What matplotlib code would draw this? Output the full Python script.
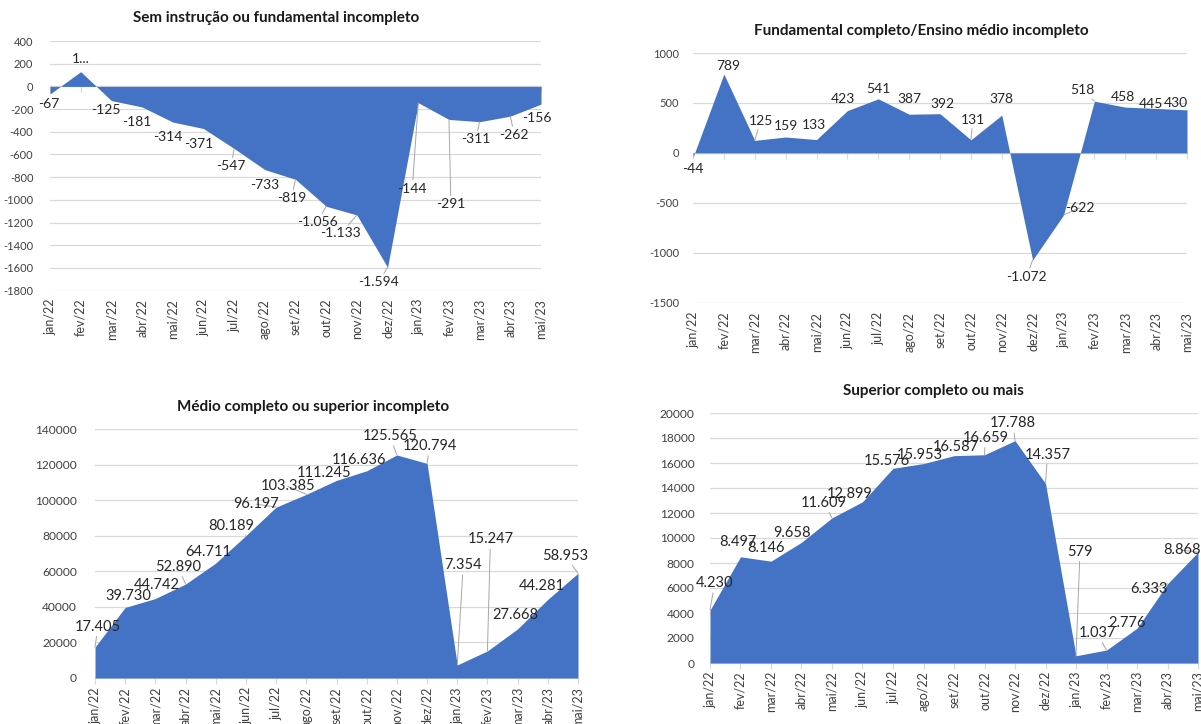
import matplotlib
matplotlib.use("Agg")
import matplotlib.pyplot as plt
import numpy as np

plt.rcParams['font.family'] = ['Lato', 'DejaVu Sans']

# ---------------- data ----------------
months = ['jan/22', 'fev/22', 'mar/22', 'abr/22', 'mai/22', 'jun/22', 'jul/22',
          'ago/22', 'set/22', 'out/22', 'nov/22', 'dez/22', 'jan/23', 'fev/23',
          'mar/23', 'abr/23', 'mai/23']

sem_instrucao = [-67, 130, -125, -181, -314, -371, -547, -733, -819, -1056, -1133,
                 -1594, -144, -291, -311, -262, -156]
fundamental_completo = [-44, 789, 125, 159, 133, 423, 541, 387, 392, 131, 378,
                        -1072, -622, 518, 458, 445, 430]
medio_completo = [17405, 39730, 44742, 52890, 64711, 80189, 96197, 103385, 111245,
                  116636, 125565, 120794, 7354, 15247, 27668, 44281, 58953]
superior_completo = [4230, 8497, 8146, 9658, 11609, 12899, 15576, 15953, 16587,
                     16659, 17788, 14357, 579, 1037, 2776, 6333, 8868]

titles = ['Sem instrução ou fundamental incompleto',
          'Fundamental completo/Ensino médio incompleto',
          'Médio completo ou superior incompleto',
          'Superior completo ou mais']

# label text overrides (truncated label in the original)
overrides = [{1: '1...'}, {}, {}, {}]

# ---------------- layout / style ----------------
W, H = 1201, 724
BLUE = '#4472C4'
GRID = '#D9D9D9'
LEAD = '#A6A6A6'

# (left, top, right, bottom) in pixels
rects = [(50, 41, 541, 290.7), (693, 53, 1187, 302.7),
         (95, 429.3, 578, 678), (710, 413, 1198, 663)]
ylims = [(-1800, 400), (-1500, 1000), (0, 140000), (0, 20000)]
ysteps = [200, 500, 20000, 2000]
title_pos = [(276, 18), (921, 30.5), (313, 406.5), (933, 390.5)]
ytick_size = [8, 8, 8.6, 8.6]
ytick_pad = [12, 10, 13, 11]
xlab_pad = [8, 9, 9, 8]
lab_size = [10, 10, 10.5, 10.5]
zero_axis = [True, True, False, False]

# label offsets in pixels (dx, dy) with dy downward
offsets = [
    [(-1, 10), (0, -12.6), (-6, 9), (-5, 15), (-5, 15), (-4.5, 15), (-3, 18), (0, 15),
     (-4, 19), (-9, 16), (-16, 18.5), (-9, 15), (-6, 86), (2, 85), (-4, 17.5), (4, 19), (-4, 14)],
    [(0, 12), (4, -8), (6, -19.7), (0, -11), (-3, -14.6), (-4, -11.6), (0, -9.6), (0, -15),
     (2, -9.4), (2, -20), (0, -16), (-6, 17), (16, -7), (-12, -11), (-2, -10.4), (-5, -4), (-11, -7)],
    [(3, -20.4), (3.6, -11.7), (1.6, -13.5), (-7.6, -17.3), (-8, -11.3), (-15, -10), (-20, -3),
     (-18.6, -8), (-12, -7), (-8, -11), (-7, -19), (2.5, -17.4), (6, -100), (3, -111.6),
     (-2, -14), (-5.6, -13.3), (-12.6, -17.6)],
    [(4.6, -26.8), (-3, -15), (-5, -13.5), (-9, -9), (-8, -15), (-12.5, -8), (-6.5, -7),
     (-3.5, -8.6), (2, -9), (1, -17), (-2, -17.3), (2, -29), (4, -104), (-9.5, -17.3),
     (-10, -5), (-18.7, 5.5), (-16.5, -2)],
]

series = [sem_instrucao, fundamental_completo, medio_completo, superior_completo]


def fmt(v):
    s = f"{abs(int(v)):,}".replace(',', '.')
    return ('-' if v < 0 else '') + s


fig = plt.figure(figsize=(W / 100, H / 100), dpi=100)
fig.patch.set_facecolor('white')

x = np.arange(len(months))
for k in range(4):
    l, t, r, b = rects[k]
    ax = fig.add_axes([l / W, 1 - b / H, (r - l) / W, (b - t) / H])
    vals = np.array(series[k], dtype=float)
    ax.fill_between(x, vals, 0, color=BLUE, linewidth=0, zorder=3)
    ax.set_xlim(0, len(months) - 1)
    ax.set_ylim(*ylims[k])
    yt = np.arange(ylims[k][0], ylims[k][1] + 1, ysteps[k])
    ax.set_yticks(yt)
    ax.set_yticklabels([str(int(v)) for v in yt], fontsize=ytick_size[k], color='#404040')
    ax.tick_params(axis='y', length=0, pad=ytick_pad[k])
    ax.grid(axis='y', color=GRID, linewidth=0.9, zorder=0)
    ax.set_axisbelow(True)
    for s in ['left', 'top', 'right']:
        ax.spines[s].set_visible(False)
    ax.spines['bottom'].set_color(GRID)
    ax.spines['bottom'].set_linewidth(0.9)
    if zero_axis[k]:
        ax.spines['bottom'].set_position(('data', 0))
    ax.set_xticks(x)
    ax.tick_params(axis='x', direction='out', length=4, color=GRID, labelbottom=False)
    ax.patch.set_alpha(0)

    # category labels at the bottom ("low" position)
    for i, m in enumerate(months):
        ax.annotate(m, xy=(i, 0), xycoords=('data', 'axes fraction'),
                    xytext=(0, -xlab_pad[k]), textcoords='offset pixels',
                    rotation=90, ha='center', va='top', fontsize=9, color='#404040',
                    annotation_clip=False)

    # data labels
    for i, v in enumerate(series[k]):
        txt = overrides[k].get(i, fmt(v))
        dx, dy = offsets[k][i]
        dist = np.hypot(dx, dy)
        arrow = dict(arrowstyle='-', color=LEAD, lw=0.7, shrinkA=0, shrinkB=0) if dist > 16 else None
        ax.annotate(txt, xy=(i, v), xytext=(dx, -dy), textcoords='offset pixels',
                    ha='center', va='center', fontsize=lab_size[k], color='#262626',
                    arrowprops=arrow, zorder=5, annotation_clip=False)

    tx, ty = title_pos[k]
    fig.text(tx / W, 1 - ty / H, titles[k], ha='center', va='center',
             fontsize=11, fontweight='bold', color='#1a1a1a')

fig.savefig('out.png', dpi=100, facecolor='white')
